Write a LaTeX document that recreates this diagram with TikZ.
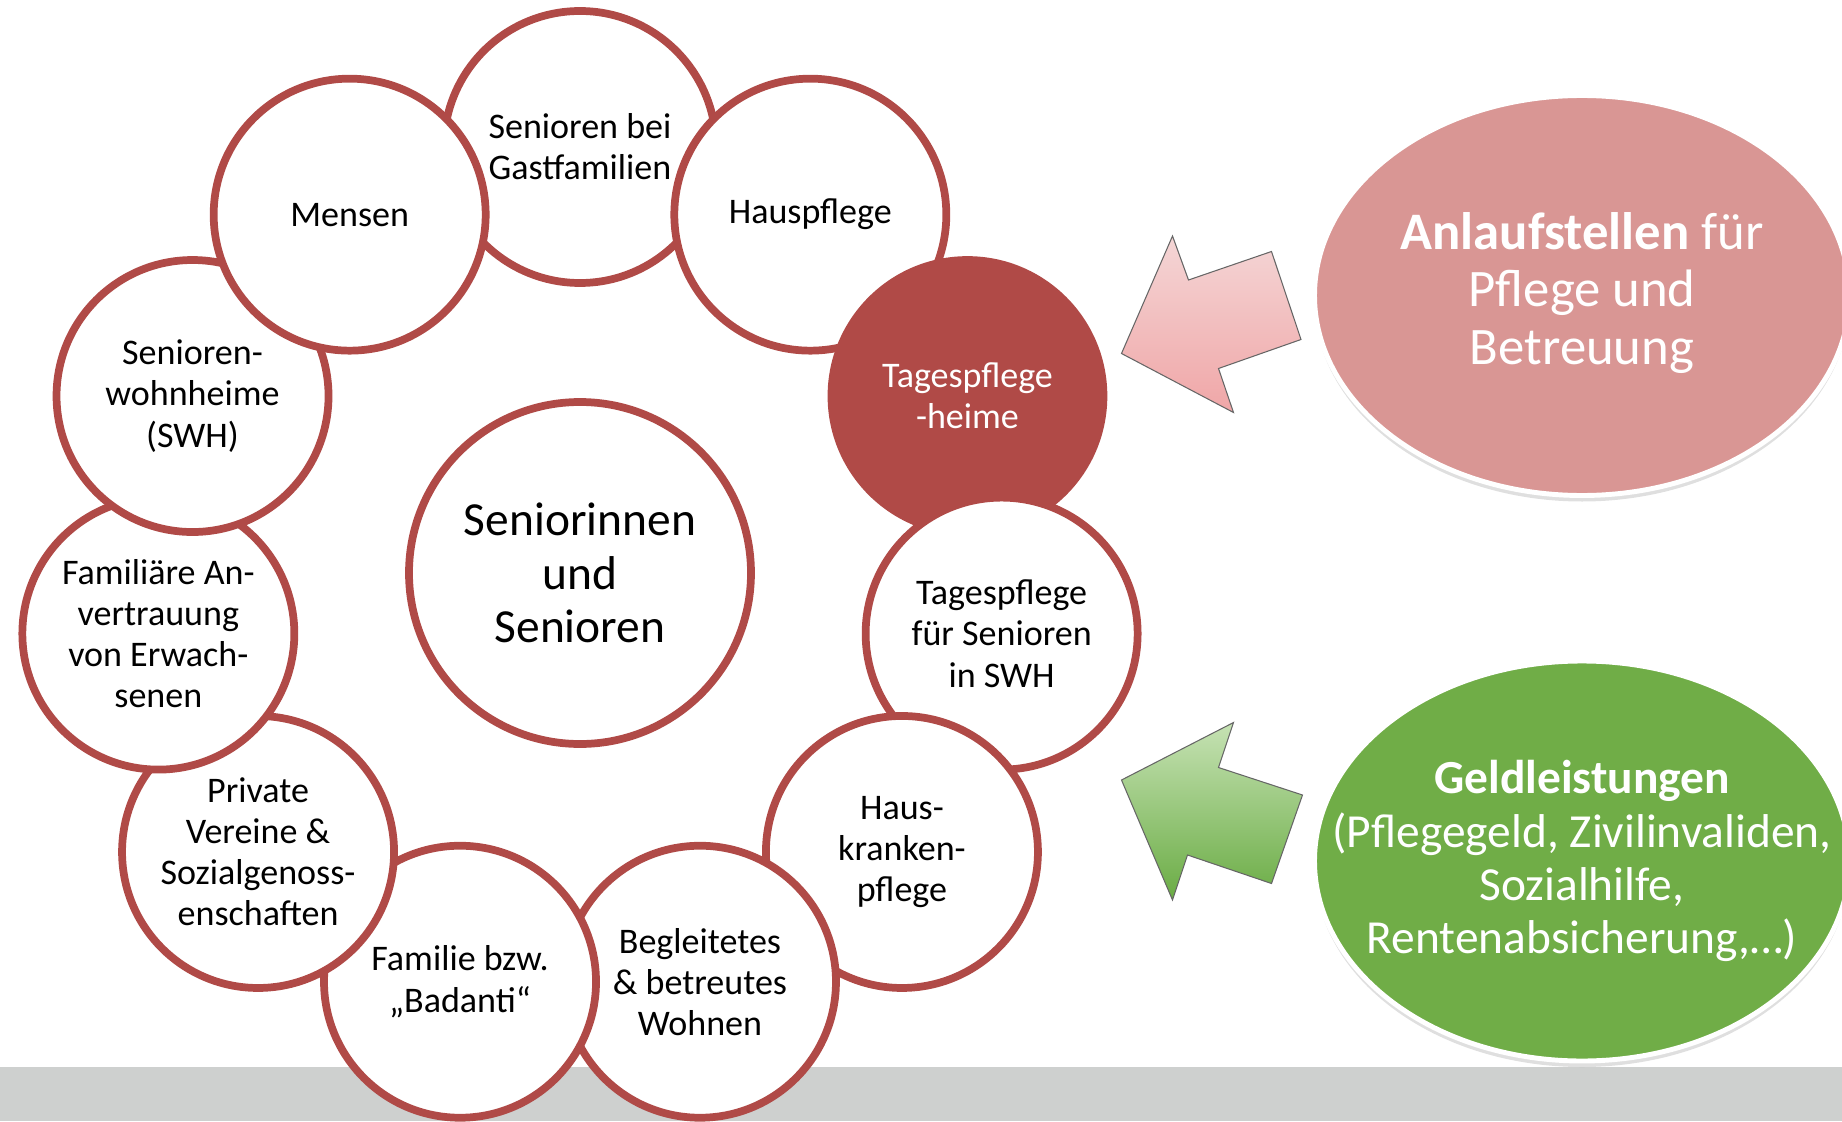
\documentclass[tikz,border=0pt]{standalone}
\usepackage{fontspec}
\setmainfont{Carlito}
\usepackage{tikz}
\usepackage{xcolor}
\usetikzlibrary{positioning,shapes,shadows}

\definecolor{ringred}{RGB}{176,74,71}
\definecolor{pinkfill}{RGB}{217,150,148}
\definecolor{greenfill}{RGB}{112,173,71}
\definecolor{bargrey}{RGB}{206,208,207}
\definecolor{pinktop}{RGB}{244,214,214}
\definecolor{pinkbottom}{RGB}{240,166,167}
\definecolor{greentop}{RGB}{198,226,180}
\definecolor{greenbottom}{RGB}{106,172,68}

\begin{document}
\begin{tikzpicture}[
  ringnode/.style={circle, draw=ringred, line width=4.4pt, fill=white, minimum size=5.44cm, inner sep=1pt, align=center, font=\fontsize{20.5}{23.4}\selectfont},
  filledringnode/.style={ringnode, fill=ringred, text=white},
  centernode/.style={ringnode, minimum size=6.84cm, font=\fontsize{27}{30.3}\selectfont},
  bubblenode/.style={ellipse, draw=white, line width=2.8pt, minimum width=10.7cm, minimum height=8cm, drop shadow={opacity=0.25, shadow xshift=0pt, shadow yshift=-1.2mm}},
  bubbletext/.style={align=center, text=white},
  blockarrow/.style={draw=black!60, line width=0.6pt}
]
\useasboundingbox (-11.6,-10.96) rectangle (25.24,11.46);

%Background bar
\fill[bargrey] (-11.6,-10.96) rectangle (25.24,-9.88);

%Arrows
\draw[blockarrow, top color=pinktop, bottom color=pinkbottom] (10.83,4.39) -- (11.85,6.74) -- (12.17,5.86) -- (13.83,6.43) -- (14.42,4.67) -- (12.77,4.09) -- (13.07,3.21) -- cycle;
\draw[blockarrow, top color=greentop, bottom color=greenbottom] (10.83,-4.14) -- (13.07,-2.99) -- (12.77,-3.89) -- (14.45,-4.44) -- (13.83,-6.21) -- (12.15,-5.64) -- (11.85,-6.54) -- cycle;

%Bubbles
\node[bubblenode, fill=pinkfill] (anlauf) at (20.04,5.55) {};
\node[bubbletext, font=\fontsize{30}{32.7}\selectfont, yshift=0.05cm] (anlauftext) at (anlauf) {\textbf{Anlaufstellen} für\\Pflege und\\Betreuung};
\node[bubblenode, fill=greenfill] (geld) at (20.04,-5.76) {};
\node[bubbletext, font=\fontsize{27}{30.2}\selectfont] (geldtext) at (geld) {\textbf{Geldleistungen}\\(Pflegegeld, Zivilinvaliden,\\Sozialhilfe,\\Rentenabsicherung,…)};

%Nodes ring
\node[ringnode] (gast) at (90:8.52) {Senioren bei\\Gastfamilien};
\node[ringnode] (haus) at (57.27:8.52) {Hauspflege};
\node[filledringnode] (tagesheime) at (24.55:8.52) {Tagespflege\\-heime};
\node[ringnode] (tagesswh) at (-8.18:8.52) {Tagespflege\\für Senioren\\in SWH};
\node[ringnode] (hauskranken) at (-40.91:8.52) {Haus-\\kranken-\\pflege};
\node[ringnode] (begleitet) at (-73.64:8.52) {Begleitetes\\\& betreutes\\Wohnen};
\node[ringnode] (familie) at (-106.36:8.52) {Familie bzw.\\„Badanti“};
\node[ringnode] (vereine) at (-139.09:8.52) {Private\\Vereine \&\\Sozialgenoss-\\enschaften};
\node[ringnode] (anvertrauung) at (-171.82:8.52) {Familiäre An-\\vertrauung\\von Erwach-\\senen};
\node[ringnode] (swh) at (155.45:8.52) {Senioren-\\wohnheime\\(SWH)};
\node[ringnode] (mensen) at (122.73:8.52) {Mensen};

%Center
\node[centernode] (senioren) at (0,0) {Seniorinnen\\und\\Senioren};
\end{tikzpicture}
\end{document}
